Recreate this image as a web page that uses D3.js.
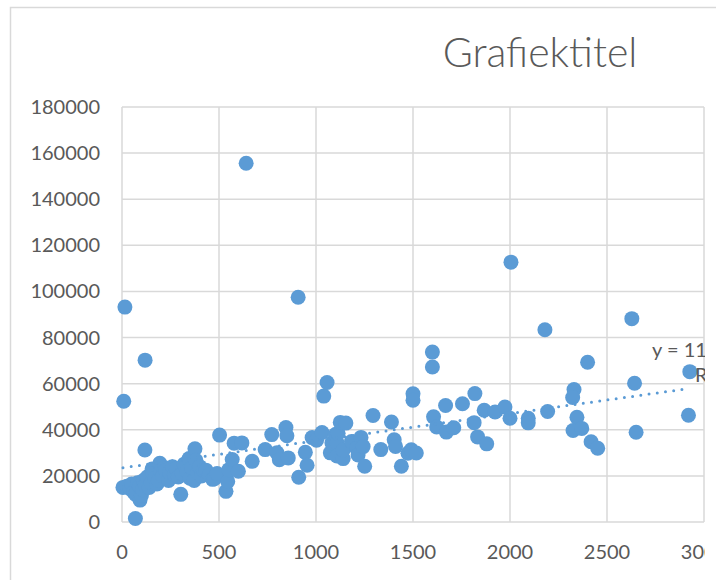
<!DOCTYPE html>
<html><head><meta charset="utf-8">
<script src="https://cdn.jsdelivr.net/npm/d3@7"></script>
<style>html,body{margin:0;padding:0;background:#fff;overflow:hidden}</style>
</head><body>
<svg id="chart" width="716" height="580"></svg>
<script>
const title = "Grafiektitel";
const xValues = [15,119,9,
5,25,40,50,60,70,80,90,93,100,105,110,118,120,130,140,150,155,160,170,180,190,195,200,210,220,225,240,245,260,270,280,290,303,310,320,335,346,350,360,372,376,381,390,400,410,420,433,450,467,476,490,503,69,
536,545,551,568,578,600,618,640,671,738,772,799,811,845,850,857,908,911,945,954,980,1003,
1031,1040,1057,1074,1082,1100,1109,1108,1114,1125,1140,1140,1154,1183,1209,1217,1232,1243,1251,1294,1334,1389,1403,1410,1440,1474,1491,1500,1500,1517,
1600,1600,1606,1622,1668,1672,1710,1755,1815,1819,1833,1867,1880,1923,1974,2000,2005,
2094,2094,2180,2194,2330,2323,2345,2325,2370,2400,2418,2452,2628,2642,2650,2920,2927];
const yValues = [93200,70200,52400,
15000,15500,14500,16500,13000,12000,17000,15500,9500,11500,14000,18000,31200,16000,19500,15000,17000,23000,21000,19000,16500,18000,25500,22000,20000,23500,22500,18000,21500,24000,20500,23000,19500,12000,21000,25000,22000,27500,19000,23500,18000,31800,26800,21500,24000,20000,22500,22500,20500,18500,18800,21000,37700,1500,
13300,17600,22700,27100,34200,22000,34300,155600,26300,31400,37900,30000,27000,41000,37400,27800,97500,19400,30200,24600,36600,35500,
38800,54600,60500,30000,34400,37900,34300,28600,38500,43200,27500,31300,42900,34900,32000,29100,36700,32700,24200,46200,31400,43400,35700,32800,24200,29800,31300,55600,52800,29900,
73700,67200,45600,41200,50500,39000,40900,51300,43100,55700,36900,48500,33900,47700,49900,45000,112700,
45000,43000,83400,47900,57500,54000,45400,39700,40600,69300,34800,32000,88200,60200,38900,46300,65200];
const xTicks = [0,500,1000,1500,2000,2500,3000];
const yTicks = [0,20000,40000,60000,80000,100000,120000,140000,160000,180000];
const trendSlope = 11.786, trendIntercept = 23464;
const trendLabel1 = "y = 11,786x + 23464";
const trendLabel2 = "R² = 0,2916";

const svg = d3.select("#chart");
const grid = "#D9D9D9", txt = "#595959", dot = "#5B9BD5";
const font = "Lato, 'Open Sans', sans-serif";

svg.append("rect").attr("x",10.5).attr("y",7.5).attr("width",800).attr("height",700)
  .attr("fill","#fff").attr("stroke",grid).attr("stroke-width",1.5);

svg.append("defs").append("clipPath").attr("id","clip")
  .append("rect").attr("x",0).attr("y",0).attr("width",705).attr("height",580);
const g = svg.append("g").attr("clip-path","url(#clip)");

const x = d3.scaleLinear().domain([0,3000]).range([122,704]);
const y = d3.scaleLinear().domain([0,180000]).range([522,107]);

g.append("g").selectAll("line").data(yTicks).join("line")
  .attr("x1",x(0)).attr("x2",x(3000)).attr("y1",d=>y(d)).attr("y2",d=>y(d))
  .attr("stroke",grid).attr("stroke-width",1.5);
g.append("g").selectAll("line").data(xTicks).join("line")
  .attr("x1",d=>x(d)).attr("x2",d=>x(d)).attr("y1",y(0)).attr("y2",y(180000))
  .attr("stroke",grid).attr("stroke-width",1.5);

g.append("g").selectAll("text").data(yTicks).join("text")
  .attr("x",100).attr("y",d=>y(d)+7).attr("text-anchor","end")
  .attr("font-family",font).attr("font-size",20).attr("fill",txt).text(d=>d);
g.append("g").selectAll("text").data(xTicks).join("text")
  .attr("x",d=>x(d)).attr("y",559).attr("text-anchor","middle")
  .attr("font-family",font).attr("font-size",20).attr("fill",txt).text(d=>d);

g.append("text").attr("x",540).attr("y",67).attr("text-anchor","middle")
  .attr("font-family",font).attr("font-weight",300).attr("font-size",41).attr("fill",txt).text(title);

const pts = xValues.map((v,i)=>[v,yValues[i]]);
g.append("g").selectAll("circle").data(pts).join("circle")
  .attr("cx",d=>x(d[0])).attr("cy",d=>y(d[1])).attr("r",7.5).attr("fill",dot);

const xmin = d3.min(xValues), xmax = d3.max(xValues);
g.append("line").attr("x1",x(xmin)).attr("y1",y(trendIntercept+trendSlope*xmin))
  .attr("x2",x(xmax)).attr("y2",y(trendIntercept+trendSlope*xmax))
  .attr("stroke",dot).attr("stroke-width",3).attr("stroke-linecap","round").attr("stroke-dasharray","0 8.3");

g.append("text").attr("x",652).attr("y",357).attr("font-family",font).attr("font-size",20).attr("fill",txt).text(trendLabel1);
g.append("text").attr("x",695).attr("y",382).attr("font-family",font).attr("font-size",20).attr("fill",txt).text(trendLabel2);
</script>
</body></html>
